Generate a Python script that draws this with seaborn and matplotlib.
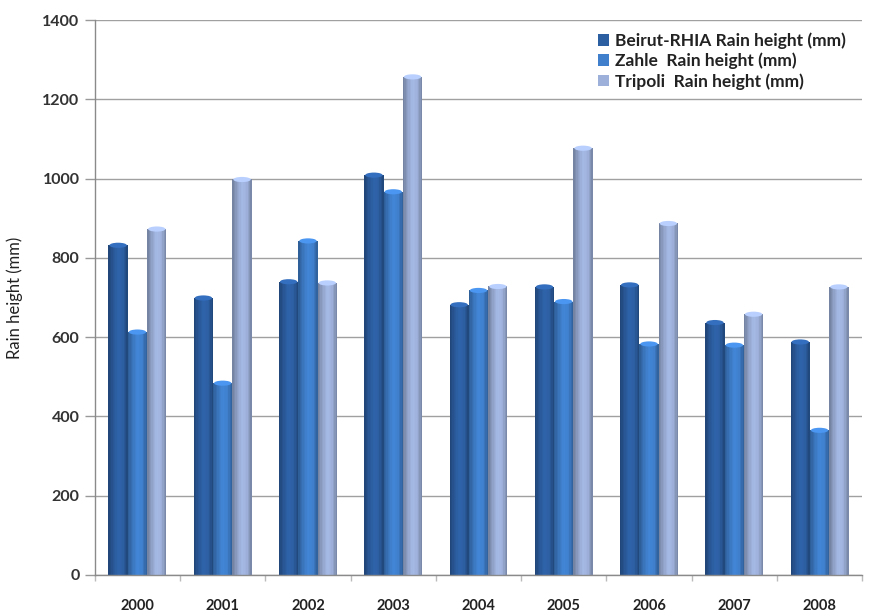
import numpy as np
import pandas as pd
import matplotlib
matplotlib.use("Agg")
import matplotlib.pyplot as plt
from matplotlib.colors import LinearSegmentedColormap, to_rgb
from matplotlib.patches import Ellipse, Rectangle
import seaborn as sns

years = ["2000", "2001", "2002", "2003", "2004", "2005", "2006", "2007", "2008"]
beirut = [832, 699, 740, 1009, 682, 727, 732, 637, 588]
zahle = [613, 484, 843, 967, 718, 690, 583, 580, 365]
tripoli = [873, 998, 737, 1257, 728, 1077, 887, 658, 727]
series_names = ["Beirut-RHIA Rain height (mm)",
                "Zahle  Rain height (mm)",
                "Tripoli  Rain height (mm)"]
colors = ["#2c5ea2", "#3f7fcc", "#9db0da"]

df = pd.DataFrame({
    "year": years * 3,
    "rain": beirut + zahle + tripoli,
    "station": [series_names[0]] * 9 + [series_names[1]] * 9 + [series_names[2]] * 9,
})

sns.set_theme(style="white")
plt.rcParams["font.family"] = ["Lato", "DejaVu Sans"]

fig = plt.figure(figsize=(8.7, 6.12), dpi=100)
ax = fig.add_axes([0.109, 0.0605, 0.882, 0.9065])

sns.barplot(data=df, x="year", y="rain", hue="station", order=years,
            hue_order=series_names, palette=colors, width=0.68,
            saturation=1, linewidth=0, gap=0, ax=ax, legend=True)

ax.set_ylim(0, 1400)
ax.set_xlim(-0.5, len(years) - 0.5)
ax.set_yticks(range(0, 1401, 200))
ax.yaxis.grid(True, color="#a0a0a0", linewidth=1.0)
ax.set_axisbelow(True)


def shade(c, f):
    r = np.array(to_rgb(c)) * f
    return tuple(np.clip(r, 0, 1))


# cylinder-style shading: vertical stripes laid over each bar, light cap on top
n_strips = 14
bars = [p for p in ax.patches if p.get_height() > 0]
for p in bars:
    c = p.get_facecolor()
    x0, w, h = p.get_x(), p.get_width(), p.get_height()
    z = p.get_zorder()
    cmap = LinearSegmentedColormap.from_list(
        "cyl", [shade(c, 0.72), shade(c, 0.92), shade(c, 1.06), shade(c, 1.0), shade(c, 0.74)])
    sw = w / n_strips
    for k in range(n_strips):
        ax.add_patch(Rectangle((x0 + k * sw, 0), sw * 1.08 if k < n_strips - 1 else sw, h,
                               facecolor=cmap((k + 0.5) / n_strips), edgecolor="none",
                               linewidth=0, zorder=z + 0.1))
    ax.add_patch(Ellipse((x0 + w / 2, h), w * 0.9, 13, facecolor=shade(c, 1.18),
                         edgecolor="none", zorder=z + 0.2))

ax.set_xlim(-0.5, len(years) - 0.5)
ax.set_ylim(0, 1400)

ax.set_xlabel("")
ax.set_ylabel("Rain height (mm)", fontsize=12, color="#222222", labelpad=14)
ax.tick_params(axis="y", labelsize=11.5, colors="#333333", length=7, width=1,
               color="#999999", left=True, pad=4)
ax.tick_params(axis="x", labelsize=10.5, colors="#222222", length=0, pad=17)
for lbl in ax.get_xticklabels() + ax.get_yticklabels():
    lbl.set_fontweight("bold")

for s in ["top", "right"]:
    ax.spines[s].set_visible(False)
for s in ["left", "bottom"]:
    ax.spines[s].set_color("#8a8a8a")
    ax.spines[s].set_linewidth(1.0)

# small separators between the year groups
ax.set_xticks(np.arange(-0.5, len(years)), minor=True)
ax.tick_params(axis="x", which="minor", bottom=True, length=4, color="#bbbbbb")

handles, labels = ax.get_legend_handles_labels()
ax.legend(handles, labels, loc="upper right", bbox_to_anchor=(0.995, 1.0),
          frameon=False, prop={"size": 12.5, "weight": "bold"},
          handlelength=0.65, handleheight=0.65, handletextpad=0.35,
          labelspacing=0.22, labelcolor="#222222", borderaxespad=0.3)

fig.savefig("out.png", dpi=100, facecolor="white")
